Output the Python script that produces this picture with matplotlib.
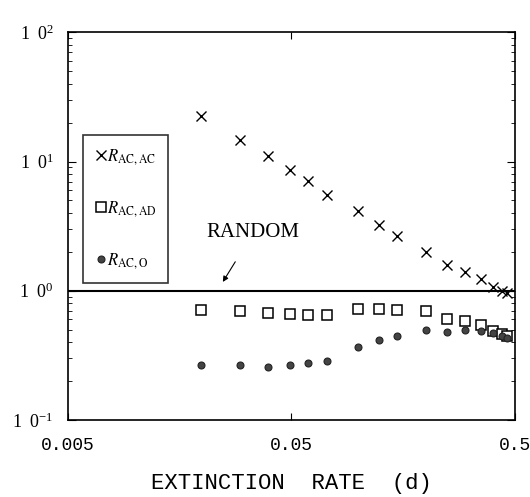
import matplotlib
matplotlib.use("Agg")
import matplotlib.pyplot as plt
import numpy as np

# extinction rate d (x) and the three ratios
rate = [0.0197, 0.0294, 0.0393, 0.0492, 0.0593, 0.0721, 0.0993, 0.123,
        0.148, 0.200, 0.248, 0.299, 0.352, 0.40, 0.44, 0.46]
r_ac_ac = [22.6, 14.7, 11.1, 8.6, 7.1, 5.5, 4.15, 3.23,
           2.65, 2.0, 1.58, 1.40, 1.23, 1.07, 1.0, 0.96]
r_ac_ad = [0.71, 0.70, 0.67, 0.66, 0.65, 0.65, 0.72, 0.72,
           0.71, 0.70, 0.60, 0.58, 0.54, 0.49, 0.46, 0.45]
r_ac_o = [0.265, 0.265, 0.256, 0.265, 0.275, 0.285, 0.366, 0.415,
          0.445, 0.496, 0.478, 0.496, 0.487, 0.47, 0.445, 0.43]

x_ticks = [0.005, 0.05, 0.5]
x_ticklabels = ["0.005", "0.05", "0.5"]
y_ticks = [0.1, 1, 10, 100]

plt.rcParams["font.family"] = ["Liberation Serif", "DejaVu Sans"]
plt.rcParams["mathtext.fontset"] = "stix"

fig = plt.figure(figsize=(5.30, 4.97), dpi=100)
ax = fig.add_axes([0.128, 0.155, 0.843, 0.780])
ax.set_xscale("log")
ax.set_yscale("log")

ax.plot(rate, r_ac_ac, linestyle="none", marker="x", markersize=7,
        markeredgewidth=1.0, color="black", label=r"$R_{\rm AC,AC}$")
ax.plot(rate, r_ac_ad, linestyle="none", marker="s", markersize=6.5,
        markeredgewidth=1.1, markerfacecolor="white", color="black",
        label=r"$R_{\rm AC,AD}$")
ax.plot(rate, r_ac_o, linestyle="none", marker="o", markersize=5,
        markeredgewidth=0.8, markerfacecolor="#444444", color="#222222",
        label=r"$R_{\rm AC,O}$")

ax.axhline(1, color="black", linewidth=1.5)

ax.set_xlim(0.005, 0.5)
ax.set_ylim(0.1, 100)

ax.set_xticks(x_ticks, labels=x_ticklabels, fontfamily="Liberation Mono",
              fontsize=13)
ax.xaxis.set_minor_locator(matplotlib.ticker.NullLocator())
ax.set_yticks(y_ticks, labels=[r"$\mathregular{1\ \ 0^{%d}}$" % round(np.log10(v))
                               for v in y_ticks], fontsize=13)
ax.tick_params(axis="both", which="both", direction="in", top=True, right=True)
ax.tick_params(axis="x", which="major", length=5, pad=12)
ax.tick_params(axis="y", which="major", length=6, pad=10)
ax.tick_params(axis="y", which="minor", length=3)

for s in ax.spines.values():
    s.set_linewidth(1.2)

ax.set_xlabel("EXTINCTION  RATE  (d)", fontfamily="Liberation Mono",
              fontsize=16, labelpad=14)

ax.annotate("RANDOM", xy=(0.0247, 1.17), xytext=(0.0209, 2.8),
            fontsize=15, va="center", ha="left",
            arrowprops=dict(arrowstyle="-|>", color="black", lw=0.8,
                            shrinkA=14, shrinkB=0, mutation_scale=8))

leg = ax.legend(loc="upper left", bbox_to_anchor=(0.034, 0.735),
                borderaxespad=0, fontsize=12, frameon=True, fancybox=False,
                edgecolor="black", handlelength=0.7, handletextpad=0.05,
                labelspacing=1.95, borderpad=0.7)
leg.get_frame().set_linewidth(1.2)

fig.savefig("out.png", dpi=100)
